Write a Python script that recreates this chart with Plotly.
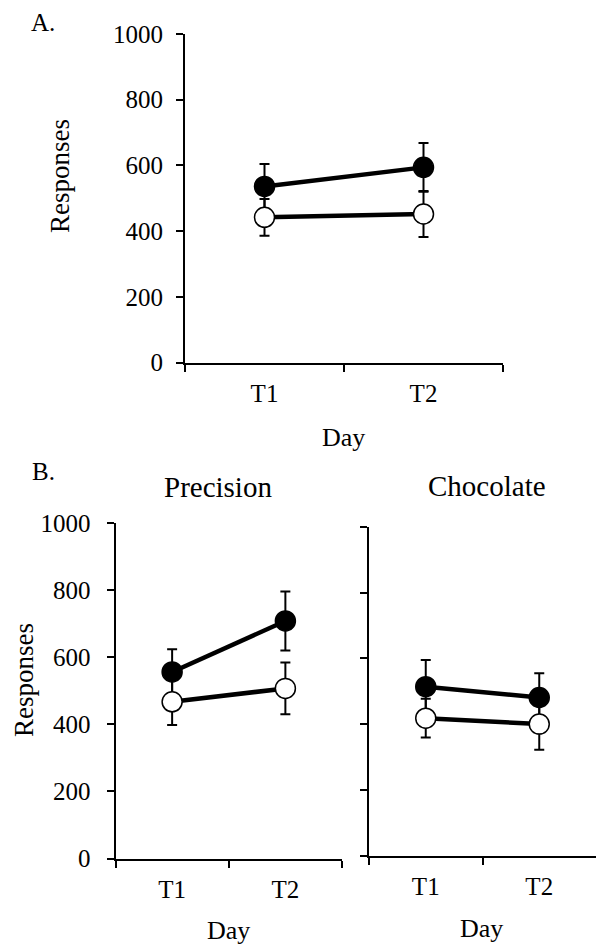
import plotly.graph_objects as go

W, H = 597, 951

days = ["T1", "T2"]
y_ticks = [0, 200, 400, 600, 800, 1000]

# Panel A
a_filled = [536, 594]
a_filled_err = [68, 74]
a_open = [442, 452]
a_open_err = [56, 70]

# Panel B - Precision
p_filled = [556, 708]
p_filled_err = [68, 88]
p_open = [467, 507]
p_open_err = [69, 77]

# Panel B - Chocolate
c_filled = [514, 481]
c_filled_err = [81, 74]
c_open = [418, 400]
c_open_err = [59, 78]

FONT = "Liberation Serif"


def px(x):
    return x / W


def py(y):
    return 1 - y / H


fig = go.Figure()


def add_pair(xa, ya, filled, ferr, opn, oerr):
    for vals, err, fill in [(filled, ferr, "black"), (opn, oerr, "white")]:
        fig.add_trace(go.Scatter(
            x=days, y=vals, xaxis=xa, yaxis=ya, mode="lines+markers",
            line=dict(color="black", width=4.5),
            marker=dict(size=20, color=fill, line=dict(color="black", width=1.5)),
            error_y=dict(type="data", array=err, visible=True, color="black",
                         thickness=2, width=5),
            showlegend=False, cliponaxis=False,
        ))


add_pair("x", "y", a_filled, a_filled_err, a_open, a_open_err)
add_pair("x2", "y2", p_filled, p_filled_err, p_open, p_open_err)
add_pair("x3", "y3", c_filled, c_filled_err, c_open, c_open_err)

xcommon = dict(type="category", range=[-0.5, 1.5], tickson="boundaries",
               ticks="outside", ticklen=7, tickwidth=2, tickcolor="black",
               showline=True, linecolor="black", linewidth=2, showgrid=False,
               zeroline=False, tickfont=dict(family=FONT, size=25, color="black"),
               fixedrange=True, automargin=False, ticklabelstandoff=7)
ycommon = dict(range=[0, 1000], tickvals=y_ticks, ticks="outside", ticklen=7,
               tickwidth=2, tickcolor="black", showline=True, linecolor="black",
               linewidth=2, showgrid=False, zeroline=False,
               tickfont=dict(family=FONT, size=25, color="black"), fixedrange=True,
               automargin=False)

fig.update_layout(
    width=W, height=H, margin=dict(l=0, r=0, t=0, b=0, autoexpand=False),
    paper_bgcolor="white", plot_bgcolor="white",
    xaxis=dict(xcommon, domain=[px(185), px(503)], anchor="y"),
    yaxis=dict(ycommon, domain=[py(362.5), py(34)], anchor="x", ticklabelstandoff=8),
    xaxis2=dict(xcommon, domain=[px(115.5), px(342)], anchor="y2"),
    yaxis2=dict(ycommon, domain=[py(858.5), py(523)], anchor="x2", ticklabelstandoff=11),
    xaxis3=dict(xcommon, domain=[px(369), px(596)], anchor="y3"),
    yaxis3=dict(ycommon, domain=[py(855.5), py(527)], anchor="x3", showticklabels=False),
)

annots = [
    ("A.", 43, 23, 25, 0),
    ("B.", 43, 471, 25, 0),
    ("Precision", 218, 487, 29, 0),
    ("Chocolate", 487, 486, 29, 0),
    ("Day", 343, 437, 26, 0),
    ("Day", 228, 930, 26, 0),
    ("Day", 481, 928, 26, 0),
    ("Responses", 60, 176, 27, -90),
    ("Responses", 24, 680, 27, -90),
]
for text, x, y, size, ang in annots:
    fig.add_annotation(text=text, x=px(x), y=py(y), xref="paper", yref="paper",
                       showarrow=False, xanchor="center", yanchor="middle",
                       textangle=ang, font=dict(family=FONT, size=size, color="black"))

fig.write_html("out.html", config={"displayModeBar": False},
               post_script="document.body.style.margin='0';document.body.style.overflow='hidden';")
